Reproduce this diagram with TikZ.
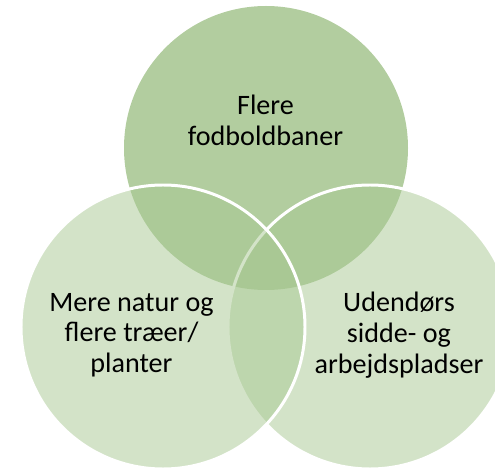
\documentclass[tikz,border=0pt]{standalone}
\usepackage{fontspec}
\setmainfont{Carlito}
\usetikzlibrary{positioning}
\definecolor{leaf}{RGB}{168,200,146}
\definecolor{moss}{RGB}{178,205,159}
\definecolor{ink}{HTML}{000000}
\begin{document}
\begin{tikzpicture}[
  venn/.style={circle,minimum size=5.68cm,inner sep=0pt},
  tag/.style={align=center,text=ink,font=\fontsize{16}{17.5}\selectfont}]
\useasboundingbox (0,0) rectangle (9.9,9.38);
\clip (0,0) rectangle (9.9,9.38);
% circles: top first, then right and left see-through
\node[venn,fill=moss] (ball) at (5.32,6.42) {};
\node[venn,fill=leaf,fill opacity=.5,draw=white,line width=1.7pt] (seat) at (7.40,2.84) {};
\node[venn,fill=leaf,fill opacity=.5,draw=white,line width=1.7pt] (tree) at (3.26,2.84) {};
% labels
\node[tag] (balltxt) at (5.31,6.98) {Flere\\fodboldbaner};
\node[tag] (treetxt) at (2.63,2.68) {Mere natur og\\flere træer/\\planter};
\node[tag] (seattxt) at (7.98,2.68) {Udendørs\\sidde- og\\arbejdspladser};
\end{tikzpicture}
\end{document}
